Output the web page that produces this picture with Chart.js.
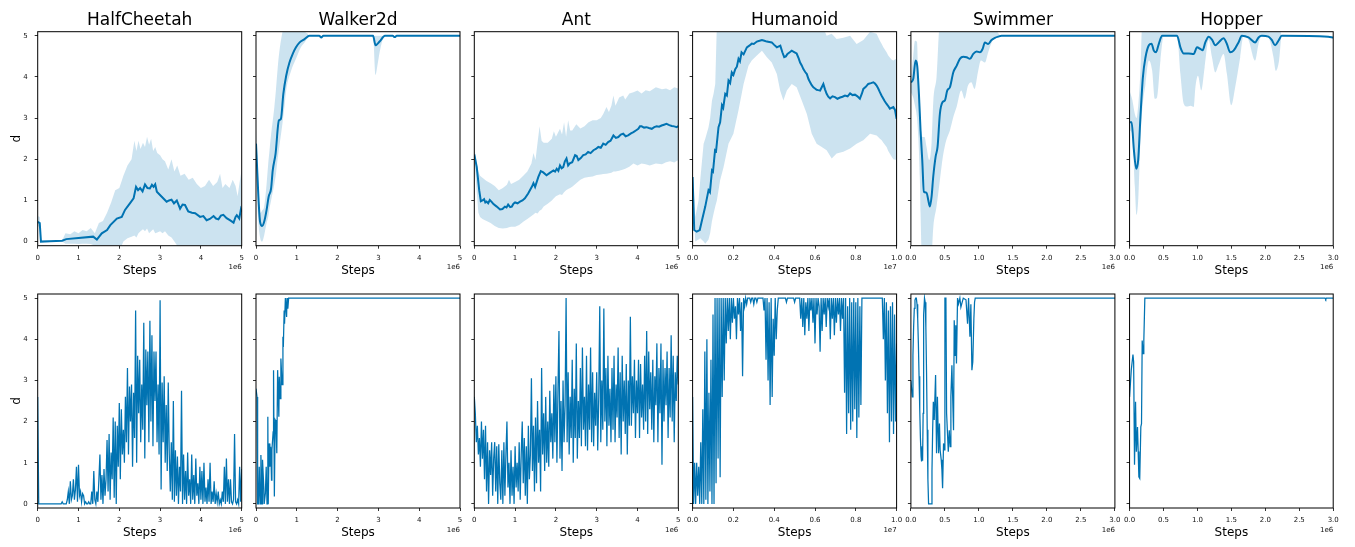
<!DOCTYPE html>
<html>
<head>
<meta charset="utf-8">
<title>d over training steps</title>
<script src="https://cdn.jsdelivr.net/npm/chart.js@4.4.6/dist/chart.umd.min.js"></script>
<style>
  html, body { margin: 0; padding: 0; background: #fff; }
  body { width: 1355px; height: 547px; overflow: hidden; position: relative; font-family: "DejaVu Sans", sans-serif; }
  canvas { position: absolute; }
  .offset { position: absolute; width: 40px; font-size: 7px; line-height: 7px; color: #111; text-align: right; white-space: nowrap; }
</style>
</head>
<body>
<script>
// ============ data ============
const ENVS = ["HalfCheetah", "Walker2d", "Ant", "Humanoid", "Swimmer", "Hopper"];
const X_MAX = [5, 5, 5, 1.0, 3.0, 3.0];
const X_OFFSET = ["1e6", "1e6", "1e6", "1e7", "1e6", "1e6"];
const Y_TICKS = [0, 1, 2, 3, 4, 5];
const Y_LABELS = ["0", "1", "2", "3", "4", "5"];
const X_TICKS_5 = [0, 1, 2, 3, 4, 5];
const X_LABELS_5 = ["0", "1", "2", "3", "4", "5"];
const X_TICKS_1 = [0, 0.2, 0.4, 0.6, 0.8, 1.0];
const X_LABELS_1 = ["0.0", "0.2", "0.4", "0.6", "0.8", "1.0"];
const X_TICKS_3 = [0, 0.5, 1.0, 1.5, 2.0, 2.5, 3.0];
const X_LABELS_3 = ["0.0", "0.5", "1.0", "1.5", "2.0", "2.5", "3.0"];

// top row: mean curve + spread band
const hcMeanX = [0, 0.05, 0.08, 0.3, 0.6, 0.7, 1.0, 1.36, 1.45, 1.57, 1.7, 1.78, 1.94, 2.06, 2.14, 2.26, 2.35, 2.41, 2.46, 2.51, 2.57, 2.63, 2.69, 2.75, 2.8, 2.84, 2.88, 2.92, 3.04, 3.16, 3.22, 3.28, 3.34, 3.41, 3.49, 3.55, 3.61, 3.69, 3.78, 3.86, 3.98, 4.06, 4.14, 4.22, 4.31, 4.37, 4.43, 4.49, 4.55, 4.63, 4.71, 4.8, 4.85, 4.88, 4.94, 4.98, 5.0];
const hcMean = [0.48, 0.45, 0.0, 0.01, 0.02, 0.06, 0.09, 0.12, 0.05, 0.2, 0.28, 0.4, 0.56, 0.6, 0.77, 0.93, 1.05, 1.33, 1.25, 1.3, 1.22, 1.39, 1.3, 1.29, 1.38, 1.33, 1.39, 1.21, 1.09, 0.97, 1.0, 1.02, 0.93, 1.0, 0.8, 0.9, 0.89, 0.73, 0.7, 0.69, 0.6, 0.62, 0.52, 0.55, 0.62, 0.56, 0.54, 0.63, 0.65, 0.57, 0.52, 0.46, 0.6, 0.64, 0.56, 0.78, 0.72];
const hcBandX = [0, 0.05, 0.08, 0.6, 0.68, 0.8, 0.9, 1.0, 1.1, 1.2, 1.3, 1.4, 1.5, 1.6, 1.7, 1.8, 1.9, 2.0, 2.05, 2.1, 2.2, 2.3, 2.37, 2.42, 2.47, 2.52, 2.58, 2.63, 2.68, 2.73, 2.78, 2.83, 2.88, 2.93, 3.0, 3.06, 3.12, 3.2, 3.28, 3.35, 3.42, 3.5, 3.6, 3.7, 3.8, 3.9, 4.0, 4.1, 4.2, 4.3, 4.4, 4.47, 4.53, 4.6, 4.7, 4.78, 4.85, 4.9, 4.95, 5.0];
const hcLo = [0.38, 0.35, 0, 0, -0.05, -0.05, -0.05, -0.06, -0.05, -0.05, -0.06, -0.1, -0.2, -0.3, -0.3, -0.3, -0.3, -0.3, -0.12, 0.0, 0.08, 0.12, 0.15, 0.1, 0.2, 0.25, 0.3, 0.25, 0.32, 0.2, 0.25, 0.3, 0.2, 0.22, 0.25, 0.2, 0.25, 0.15, 0.1, 0.0, -0.1, -0.3, -0.3, -0.3, -0.3, -0.3, -0.3, -0.3, -0.3, -0.3, -0.3, -0.3, -0.3, -0.3, -0.3, -0.3, -0.3, -0.3, -0.3, -0.3];
const hcHi = [0.62, 0.6, 0.02, 0.03, 0.2, 0.18, 0.25, 0.2, 0.28, 0.25, 0.33, 0.2, 0.45, 0.5, 0.7, 0.95, 1.25, 1.3, 1.45, 1.6, 1.85, 2.0, 2.45, 2.2, 2.45, 2.25, 2.4, 2.3, 2.55, 2.35, 2.5, 2.2, 2.3, 2.15, 2.1, 2.0, 1.95, 1.75, 2.0, 1.7, 1.85, 1.6, 1.65, 1.5, 1.55, 1.4, 1.3, 1.35, 1.5, 1.35, 1.45, 1.65, 1.3, 1.4, 1.3, 1.5, 1.35, 1.1, 1.45, 1.75];

const wkMeanX = [0, 0.1, 0.15, 0.2, 0.26, 0.31, 0.37, 0.41, 0.48, 0.56, 0.61, 0.67, 0.74, 0.82, 0.9, 0.98, 1.07, 1.19, 1.31, 1.55, 1.6, 1.65, 2.87, 2.93, 3.03, 3.16, 3.35, 3.4, 3.45, 5.0];
const wkMean = [2.38, 0.48, 0.38, 0.48, 0.77, 1.09, 1.29, 1.73, 2.14, 2.94, 2.98, 3.59, 4.03, 4.35, 4.56, 4.72, 4.84, 4.92, 5.0, 5.0, 4.96, 5.0, 5.0, 4.77, 4.86, 5.0, 5.0, 4.97, 5.0, 5.0];
const wkBandX = [0, 0.05, 0.1, 0.15, 0.2, 0.26, 0.3, 0.33, 0.37, 0.45, 0.49, 0.53, 0.57, 0.64, 0.7, 0.74, 0.86, 0.98, 1.1, 1.2, 1.27, 1.31, 2.87, 2.93, 2.98, 3.03, 3.16, 5.0];
const wkLo = [2.0, 0.6, 0.1, 0.0, 0.15, 0.45, 0.6, 0.8, 1.0, 1.4, 1.65, 2.0, 2.3, 2.8, 3.3, 3.67, 4.15, 4.44, 4.72, 4.85, 4.95, 5.0, 5.0, 4.05, 4.3, 4.6, 5.0, 5.0];
const wkHi = [2.7, 1.6, 0.7, 0.75, 0.85, 1.4, 1.9, 2.2, 2.6, 3.27, 3.7, 4.2, 4.6, 5.05, 5.3, 5.3, 5.3, 5.3, 5.3, 5.1, 5.05, 5.0, 5.0, 5.0, 5.0, 5.0, 5.0, 5.0];

const antMeanX = [0, 0.06, 0.12, 0.16, 0.2, 0.24, 0.27, 0.3, 0.34, 0.38, 0.43, 0.47, 0.55, 0.63, 0.69, 0.75, 0.79, 0.83, 0.88, 0.92, 0.96, 1.0, 1.06, 1.12, 1.18, 1.24, 1.32, 1.41, 1.45, 1.49, 1.57, 1.63, 1.69, 1.77, 1.85, 1.94, 1.98, 2.02, 2.06, 2.1, 2.14, 2.18, 2.22, 2.26, 2.3, 2.34, 2.4, 2.47, 2.51, 2.55, 2.61, 2.67, 2.73, 2.79, 2.85, 2.92, 2.98, 3.04, 3.1, 3.16, 3.22, 3.28, 3.34, 3.41, 3.47, 3.53, 3.59, 3.65, 3.71, 3.77, 3.84, 3.9, 3.96, 4.02, 4.06, 4.1, 4.16, 4.22, 4.28, 4.35, 4.41, 4.47, 4.53, 4.59, 4.65, 4.71, 4.78, 4.84, 4.9, 4.96, 5.0];
const antMean = [2.12, 1.81, 1.25, 0.98, 1.0, 1.03, 0.95, 0.97, 0.93, 1.01, 0.96, 0.91, 0.85, 0.78, 0.79, 0.85, 0.83, 0.9, 0.84, 0.85, 0.92, 0.95, 0.93, 0.97, 1.0, 1.05, 1.17, 1.33, 1.42, 1.33, 1.57, 1.71, 1.68, 1.61, 1.67, 1.73, 1.7, 1.77, 1.72, 1.85, 1.78, 1.81, 1.95, 2.02, 1.85, 1.9, 1.93, 2.1, 2.08, 1.98, 2.03, 2.1, 2.12, 2.18, 2.15, 2.22, 2.25, 2.3, 2.28, 2.38, 2.35, 2.42, 2.45, 2.58, 2.52, 2.54, 2.6, 2.62, 2.56, 2.58, 2.63, 2.66, 2.7, 2.74, 2.8, 2.8, 2.77, 2.78, 2.76, 2.74, 2.78, 2.8, 2.79, 2.82, 2.84, 2.86, 2.83, 2.81, 2.8, 2.78, 2.81];
const antBandX = [0, 0.06, 0.1, 0.14, 0.2, 0.3, 0.4, 0.5, 0.6, 0.7, 0.8, 0.85, 0.9, 1.0, 1.1, 1.2, 1.3, 1.4, 1.45, 1.5, 1.55, 1.6, 1.65, 1.7, 1.8, 1.9, 1.95, 2.0, 2.1, 2.15, 2.2, 2.25, 2.3, 2.35, 2.4, 2.5, 2.6, 2.7, 2.8, 2.9, 3.0, 3.1, 3.16, 3.24, 3.3, 3.36, 3.41, 3.46, 3.55, 3.65, 3.7, 3.8, 3.9, 4.0, 4.1, 4.2, 4.3, 4.45, 4.6, 4.7, 4.8, 4.9, 5.0];
const antLo = [2.0, 1.2, 0.7, 0.6, 0.55, 0.5, 0.45, 0.38, 0.33, 0.32, 0.33, 0.35, 0.36, 0.36, 0.4, 0.48, 0.55, 0.62, 0.66, 0.7, 0.68, 0.75, 0.78, 0.85, 0.92, 1.0, 1.05, 1.1, 1.15, 1.13, 1.2, 1.25, 1.28, 1.3, 1.33, 1.42, 1.5, 1.55, 1.57, 1.58, 1.62, 1.63, 1.64, 1.65, 1.66, 1.67, 1.7, 1.7, 1.72, 1.75, 1.77, 1.82, 1.9, 1.85, 1.9, 1.88, 1.85, 1.9, 1.88, 1.93, 1.95, 1.92, 1.98];
const antHi = [2.3, 1.9, 1.7, 1.6, 1.55, 1.47, 1.42, 1.35, 1.25, 1.3, 1.38, 1.5, 1.4, 1.45, 1.5, 1.6, 1.7, 1.9, 2.15, 1.98, 2.4, 2.8, 2.45, 2.4, 2.4, 2.5, 2.68, 2.55, 2.74, 2.6, 2.9, 2.55, 2.95, 2.7, 2.7, 2.85, 2.75, 2.8, 2.9, 2.95, 2.95, 3.0, 3.1, 3.27, 3.15, 3.3, 3.55, 3.3, 3.5, 3.55, 3.45, 3.6, 3.63, 3.67, 3.6, 3.68, 3.65, 3.75, 3.7, 3.72, 3.68, 3.75, 3.72];

const humMeanX = [0, 0.008, 0.02, 0.035, 0.046, 0.062, 0.078, 0.085, 0.095, 0.1, 0.11, 0.115, 0.127, 0.135, 0.144, 0.15, 0.16, 0.168, 0.176, 0.184, 0.192, 0.2, 0.209, 0.217, 0.225, 0.232, 0.24, 0.25, 0.266, 0.278, 0.29, 0.3, 0.315, 0.328, 0.34, 0.352, 0.364, 0.376, 0.388, 0.4, 0.413, 0.43, 0.44, 0.449, 0.457, 0.465, 0.476, 0.486, 0.5, 0.51, 0.52, 0.527, 0.535, 0.543, 0.552, 0.56, 0.568, 0.576, 0.584, 0.592, 0.6, 0.608, 0.616, 0.625, 0.633, 0.641, 0.649, 0.657, 0.665, 0.674, 0.686, 0.698, 0.71, 0.723, 0.735, 0.747, 0.76, 0.772, 0.784, 0.796, 0.808, 0.82, 0.83, 0.837, 0.849, 0.861, 0.874, 0.886, 0.894, 0.902, 0.91, 0.918, 0.926, 0.935, 0.942, 0.95, 0.958, 0.967, 0.975, 0.984, 0.992, 1.0];
const humMean = [1.57, 0.28, 0.24, 0.28, 0.52, 0.85, 1.25, 1.2, 1.73, 1.7, 2.22, 2.2, 2.78, 2.9, 3.31, 3.25, 3.59, 3.55, 3.91, 3.85, 4.11, 4.05, 4.19, 4.25, 4.44, 4.38, 4.6, 4.55, 4.72, 4.76, 4.81, 4.8, 4.86, 4.88, 4.9, 4.88, 4.86, 4.85, 4.84, 4.78, 4.72, 4.76, 4.6, 4.48, 4.5, 4.56, 4.6, 4.64, 4.6, 4.57, 4.45, 4.35, 4.28, 4.19, 4.12, 4.07, 3.95, 3.87, 3.8, 3.75, 3.72, 3.69, 3.68, 3.67, 3.75, 3.83, 3.7, 3.59, 3.52, 3.48, 3.53, 3.51, 3.47, 3.5, 3.52, 3.55, 3.53, 3.6, 3.56, 3.57, 3.53, 3.47, 3.6, 3.71, 3.76, 3.83, 3.85, 3.87, 3.84, 3.79, 3.72, 3.63, 3.55, 3.47, 3.41, 3.35, 3.3, 3.23, 3.25, 3.27, 3.2, 2.98];
const humBandX = [0, 0.013, 0.029, 0.0375, 0.054, 0.062, 0.078, 0.086, 0.095, 0.103, 0.111, 0.119, 0.135, 0.152, 0.176, 0.2, 0.225, 0.25, 0.274, 0.29, 0.315, 0.34, 0.364, 0.388, 0.413, 0.429, 0.445, 0.462, 0.486, 0.51, 0.535, 0.56, 0.584, 0.608, 0.633, 0.657, 0.682, 0.706, 0.739, 0.772, 0.804, 0.837, 0.87, 0.902, 0.918, 0.927, 0.935, 0.951, 0.959, 0.976, 0.984, 1.0];
const humLo = [1.4, 0.0, 0.05, 0.08, 0.0, -0.05, 0.05, 0.2, 0.5, 0.68, 0.85, 1.0, 1.49, 1.81, 2.38, 2.62, 3.19, 3.83, 4.27, 4.4, 4.52, 4.64, 4.48, 4.35, 4.07, 3.67, 3.43, 3.67, 3.83, 3.75, 3.43, 3.1, 2.62, 2.38, 2.3, 2.22, 2.02, 2.14, 2.18, 2.26, 2.38, 2.46, 2.62, 2.58, 2.5, 2.46, 2.4, 2.3, 2.2, 2.06, 2.0, 1.98];
const humHi = [1.73, 0.6, 1.0, 1.5, 2.38, 2.5, 2.78, 3.0, 3.43, 3.6, 3.83, 5.3, 5.3, 5.3, 5.3, 5.3, 5.3, 5.3, 5.3, 5.3, 5.3, 5.3, 5.3, 5.3, 5.3, 5.3, 5.3, 5.3, 5.3, 5.3, 5.3, 5.3, 5.3, 5.3, 5.3, 5.0, 5.05, 4.92, 4.95, 5.0, 4.8, 4.9, 5.1, 5.05, 4.88, 4.8, 4.72, 4.6, 4.52, 4.42, 4.4, 4.45];

const swMeanX = [0, 0.034, 0.069, 0.093, 0.118, 0.142, 0.167, 0.191, 0.23, 0.255, 0.279, 0.304, 0.328, 0.363, 0.392, 0.426, 0.466, 0.5, 0.534, 0.574, 0.623, 0.672, 0.72, 0.77, 0.819, 0.868, 0.917, 0.966, 1.015, 1.054, 1.088, 1.137, 1.186, 1.235, 1.284, 1.333, 3.0];
const swMean = [3.87, 3.95, 4.4, 4.27, 3.59, 2.7, 1.98, 1.21, 1.19, 1.01, 0.85, 1.09, 1.57, 2.06, 2.3, 3.1, 3.39, 3.43, 3.67, 3.75, 4.11, 4.27, 4.44, 4.49, 4.48, 4.44, 4.56, 4.62, 4.6, 4.68, 4.84, 4.8, 4.9, 4.95, 4.98, 5.0, 5.0];
const swBandX = [0, 0.034, 0.06, 0.09, 0.11, 0.132, 0.142, 0.16, 0.2, 0.23, 0.27, 0.304, 0.33, 0.377, 0.426, 0.47, 0.52, 0.574, 0.623, 0.672, 0.74, 0.79, 0.84, 0.887, 0.936, 0.985, 1.03, 1.088, 1.137, 1.2, 1.27, 1.333, 3.0];
const swLo = [3.63, 3.5, 3.3, 3.0, 2.5, 1.5, 0.68, -0.3, -0.3, -0.3, -0.3, -0.3, 0.36, 0.85, 1.49, 2.06, 2.46, 2.7, 3.02, 3.27, 3.67, 3.47, 3.79, 3.87, 3.71, 4.11, 4.4, 4.35, 4.6, 4.88, 4.95, 5.0, 5.0];
const swHi = [4.0, 4.5, 4.88, 4.85, 3.8, 3.4, 2.95, 2.55, 2.54, 2.3, 1.98, 2.4, 3.43, 4.0, 5.3, 5.3, 5.3, 5.3, 5.3, 5.3, 5.3, 5.3, 5.3, 5.3, 5.3, 5.3, 5.3, 5.3, 5.3, 5.3, 5.1, 5.0, 5.0];

const hpMeanX = [0, 0.03, 0.064, 0.098, 0.127, 0.16, 0.196, 0.235, 0.284, 0.323, 0.357, 0.39, 0.43, 0.48, 0.7, 0.749, 0.798, 0.871, 0.945, 0.994, 1.043, 1.077, 1.116, 1.165, 1.214, 1.263, 1.312, 1.385, 1.434, 1.483, 1.532, 1.605, 1.654, 1.752, 1.85, 1.9, 1.948, 2.046, 2.095, 2.144, 2.193, 2.242, 2.927, 3.0];
const hpMean = [2.9, 2.9, 2.22, 1.77, 1.98, 3.02, 3.99, 4.48, 4.77, 4.81, 4.64, 4.6, 4.8, 5.0, 5.0, 4.72, 4.57, 4.57, 4.56, 4.72, 4.68, 4.65, 4.84, 4.98, 4.91, 4.77, 4.84, 4.94, 4.8, 4.6, 4.64, 4.84, 5.0, 4.96, 4.84, 4.96, 5.0, 4.98, 4.9, 4.77, 4.88, 5.0, 4.98, 4.96];
const hpBandX = [0, 0.039, 0.078, 0.103, 0.127, 0.16, 0.186, 0.235, 0.284, 0.333, 0.372, 0.406, 0.455, 0.504, 0.7, 0.749, 0.798, 0.847, 0.896, 0.945, 0.97, 1.008, 1.057, 1.106, 1.165, 1.214, 1.263, 1.312, 1.385, 1.434, 1.498, 1.556, 1.63, 1.679, 1.752, 1.85, 1.9, 1.948, 2.046, 2.12, 2.154, 2.203, 2.242, 3.0];
const hpLo = [2.7, 2.62, 1.33, 0.65, 1.0, 2.46, 3.19, 3.83, 4.4, 4.15, 3.47, 3.51, 4.4, 5.0, 5.0, 4.07, 3.35, 3.28, 3.3, 3.27, 3.75, 4.03, 3.67, 4.23, 4.9, 4.48, 4.11, 4.3, 4.56, 4.07, 3.31, 3.75, 4.48, 5.0, 4.9, 4.4, 4.8, 5.0, 4.96, 4.48, 4.15, 4.4, 5.0, 5.0];
const hpHi = [3.67, 3.45, 3.1, 3.0, 3.3, 4.15, 5.3, 5.3, 5.3, 5.3, 5.3, 5.3, 5.3, 5.3, 5.3, 5.3, 5.3, 5.3, 5.3, 5.3, 5.3, 5.3, 5.3, 5.3, 5.3, 5.3, 5.3, 5.3, 5.3, 5.3, 5.3, 5.3, 5.3, 5.3, 5.3, 5.3, 5.3, 5.3, 5.3, 5.3, 5.3, 5.3, 5.0, 5.0];

// bottom row: single runs (evenly logged ones keep their logging interval)
const hcRunDt = 0.025;
const hcRun = [2.6, 0, 0, 0, 0, 0, 0, 0, 0, 0,
  0, 0, 0, 0, 0, 0, 0, 0, 0, 0,
  0, 0, 0, 0, 0.05, 0, 0, 0, 0, 0.1,
  0.3, 0, 0.55, 0.1, 0.2, 0.6, 0.1, 0.35, 0.9, 0.05,
  0.95, 0.2, 0.3, 0.05, 0.25, 0.2, 0, 0.05, 0, 0,
  0.05, 0, 0, 0.3, 0, 0.8, 0.1, 0, 0.3, 0.05,
  0.6, 1.2, 0.1, 0.7, 0, 0.85, 0.2, 0.6, 1.55, 0.3,
  1.7, 0.1, 1.25, 0.6, 2.1, 0.15, 2.0, 0, 1.9, 0.9,
  2.45, 0.6, 2.3, 1.2, 1.8, 1.0, 2.6, 1.5, 3.3, 1.2,
  2.85, 2.0, 2.9, 0.9, 2.7, 1.6, 4.7, 1.0, 3.6, 2.2,
  3.5, 1.5, 2.9, 1.8, 4.4, 1.1, 3.75, 2.4, 3.7, 1.5,
  4.45, 2.0, 4.1, 1.4, 3.7, 2.5, 3.7, 1.5, 2.9, 1.2,
  4.95, 0.35, 2.95, 1.5, 3.1, 1.0, 2.4, 0.8, 2.95, 1.2,
  0.3, 1.5, 0.1, 2.5, 0.05, 1.3, 0.2, 1.15, 0, 0.9,
  0.3, 2.75, 0, 1.2, 0.1, 0.8, 0, 1.25, 0.2, 0.6,
  0, 1.2, 0.1, 0.7, 0, 1.1, 0.2, 0.5, 0, 0.9,
  0.1, 0.8, 0, 1.0, 0.05, 0.4, 0, 0.6, 0.05, 1.0,
  0, 0.3, 0.05, 0.55, 0, 0.25, 0.05, 0.3, 0, 0.1,
  0, 0.3, 0.05, 0.9, 0, 1.1, 0.05, 0.6, 0, 0.6,
  0.05, 0, 0.1, 1.7, 0.05, 0, 0.1, 0, 0.9, 0.05,
  0.85];

const wkRunX = [0, 0.025, 0.04, 0.06, 0.08, 0.1, 0.12, 0.15, 0.16, 0.19, 0.2, 0.23, 0.25, 0.27, 0.29, 0.3, 0.32, 0.34, 0.36, 0.38, 0.39, 0.42, 0.43, 0.45, 0.47, 0.49, 0.51, 0.53, 0.56, 0.57, 0.59, 0.61, 0.64, 0.66, 0.67, 0.69, 0.7, 0.72, 0.75, 0.76, 0.78, 0.8, 5.0];
const wkRun = [2.8, 2.6, 0.0, 0.0, 0.9, 0.0, 1.19, 0.0, 1.07, 0.42, 0.0, 0.26, 0.9, 0.0, 2.12, 0.0, 1.47, 0.9, 1.39, 0.58, 1.31, 1.75, 3.25, 0.18, 2.04, 2.0, 1.23, 3.25, 2.12, 3.09, 2.56, 3.53, 2.9, 4.06, 3.81, 4.7, 4.38, 5.0, 4.54, 5.0, 4.74, 5.0, 5.0];

const antRunDt = 0.025;
const antRun = [2.6, 2.2, 1.5, 1.9, 1.2, 1.6, 0.9, 2.0, 1.1, 1.8,
  0.6, 1.9, 0.3, 1.5, 0.0, 1.3, 0.7, 1.5, 0.2, 1.1,
  1.5, 0.3, 1.4, 0.0, 1.45, 0.5, 0.1, 1.3, 0.0, 1.5,
  0.2, 1.2, 2.0, 0.4, 1.0, 0.0, 1.3, 0.2, 0.9, 0.0,
  1.4, 0.4, 1.0, 0.3, 1.5, 0.1, 1.2, 2.0, 0.5, 1.6,
  0.2, 1.4, 0.0, 1.9, 0.6, 1.2, 3.05, 0.8, 1.9, 0.3,
  2.1, 0.5, 2.5, 1.0, 1.8, 0.3, 3.3, 1.2, 2.2, 0.8,
  2.6, 1.0, 2.0, 0.9, 2.75, 1.5, 2.2, 1.1, 2.9, 1.5,
  3.1, 1.0, 2.7, 4.2, 1.1, 2.5, 0.8, 3.0, 1.5, 2.4,
  5.0, 1.5, 3.2, 1.2, 2.6, 1.6, 3.5, 1.0, 2.8, 1.6,
  3.9, 1.1, 2.5, 1.6, 3.3, 1.4, 3.8, 1.8, 2.6, 1.4,
  3.6, 1.3, 2.9, 1.8, 3.8, 1.5, 3.2, 1.4, 2.7, 1.9,
  3.2, 1.3, 2.6, 4.8, 1.5, 3.0, 1.8, 4.75, 2.0, 3.3,
  1.4, 3.6, 1.9, 2.8, 1.5, 3.3, 1.8, 3.6, 1.5, 2.9,
  2.1, 3.8, 1.6, 3.2, 1.2, 3.6, 2.0, 3.0, 1.7, 3.4,
  1.2, 3.0, 1.9, 4.55, 1.9, 3.1, 2.2, 3.5, 1.6, 3.0,
  2.2, 3.5, 1.6, 3.4, 2.1, 2.9, 1.8, 3.6, 2.0, 4.2,
  1.7, 3.7, 2.3, 3.2, 1.8, 3.5, 1.5, 3.1, 2.4, 3.9,
  1.5, 3.3, 2.2, 3.9, 0.95, 3.5, 2.0, 3.3, 2.4, 3.7,
  1.6, 3.3, 2.1, 4.1, 2.0, 3.6, 1.5, 3.2, 2.5, 3.6,
  2.9];

const humRunDt = 0.005;
const humRun = [2.6, 0.0, 1.0, 0.0, 1.0, 0.2, 0.9, 0.0, 1.5, 0.0,
  2.3, 0.0, 3.7, 0.1, 4.0, 0.0, 2.7, 0.3, 3.5, 0.0,
  4.6, 0.0, 5.0, 0.5, 5.0, 1.1, 5.0, 0.65, 5.0, 2.6,
  5.0, 3.0, 5.0, 3.9, 5.0, 4.2, 5.0, 4.0, 5.0, 4.4,
  5.0, 4.5, 4.8, 4.0, 5.0, 4.6, 5.0, 4.2, 4.9, 3.1,
  5.0, 4.8, 5.0, 4.85, 5.0, 5.0, 5.0, 4.9, 5.0, 5.0,
  4.85, 5.0, 5.0, 4.9, 5.0, 5.0, 5.0, 5.0, 5.0, 5.0,
  4.7, 5.0, 3.5, 5.0, 3.0, 4.9, 2.4, 5.0, 2.6, 4.5,
  3.6, 5.0, 4.0, 4.7, 5.0, 5.0, 5.0, 5.0, 5.0, 5.0,
  5.0, 5.0, 4.9, 5.0, 5.0, 5.0, 5.0, 5.0, 5.0, 5.0,
  4.9, 5.0, 5.0, 5.0, 5.0, 5.0, 4.5, 5.0, 4.3, 5.0,
  4.1, 4.9, 4.5, 5.0, 4.2, 5.0, 4.7, 5.0, 4.4, 5.0,
  3.9, 5.0, 4.6, 5.0, 4.8, 3.7, 5.0, 4.2, 5.0, 4.6,
  5.0, 4.3, 5.0, 4.8, 5.0, 4.0, 5.0, 4.5, 5.0, 4.1,
  5.0, 4.4, 5.0, 4.6, 5.0, 4.2, 5.0, 4.5, 5.0, 2.7,
  5.0, 1.7, 4.8, 2.2, 5.0, 1.8, 4.9, 2.0, 5.0, 2.3,
  4.9, 1.6, 5.0, 2.1, 4.8, 2.4, 5.0, 5.0, 5.0, 5.0,
  5.0, 5.0, 5.0, 5.0, 5.0, 5.0, 5.0, 5.0, 5.0, 5.0,
  5.0, 5.0, 5.0, 5.0, 5.0, 5.0, 5.0, 4.0, 5.0, 3.0,
  4.9, 2.2, 4.7, 1.5, 4.8, 2.0, 4.9, 1.7, 4.6, 2.0,
  3.9];

const swRunX = [0, 0.02, 0.03, 0.04, 0.05, 0.06, 0.07, 0.08, 0.09, 0.1, 0.11, 0.12, 0.13, 0.14, 0.15, 0.157, 0.165, 0.172, 0.18, 0.185, 0.19, 0.2, 0.21, 0.22, 0.23, 0.24, 0.25, 0.26, 0.3, 0.31, 0.32, 0.33, 0.343, 0.363, 0.377, 0.39, 0.407, 0.42, 0.43, 0.446, 0.456, 0.466, 0.48, 0.49, 0.5, 0.515, 0.525, 0.55, 0.564, 0.578, 0.588, 0.603, 0.613, 0.627, 0.637, 0.652, 0.66, 0.67, 0.686, 0.7, 0.72, 0.735, 0.77, 0.81, 0.833, 0.848, 0.868, 0.882, 0.897, 0.91, 0.926, 0.936, 0.946, 3.0];
const swRun = [3.0, 2.6, 3.6, 4.3, 4.75, 4.95, 5.0, 5.0, 4.85, 4.5, 3.9, 3.1, 2.3, 1.6, 1.15, 1.03, 1.4, 1.05, 2.2, 3.6, 4.6, 5.0, 4.9, 4.3, 3.2, 1.8, 0.6, 0.0, 0.0, 0.8, 1.8, 2.48, 2.04, 3.13, 1.23, 2.6, 1.23, 1.95, 1.31, 1.07, 0.83, 0.38, 1.47, 1.31, 5.0, 5.0, 2.2, 1.27, 1.79, 1.39, 2.6, 3.37, 2.68, 1.79, 4.46, 3.61, 4.34, 3.41, 5.0, 4.86, 5.0, 4.78, 5.0, 4.96, 4.38, 5.0, 4.06, 4.85, 3.25, 3.45, 4.5, 4.9, 5.0, 5.0];

const hpRunX = [0, 0.025, 0.05, 0.06, 0.073, 0.088, 0.1, 0.117, 0.127, 0.137, 0.15, 0.166, 0.176, 0.186, 0.2, 0.21, 0.225, 2.88, 2.89, 2.9, 3.0];
const hpRun = [2.6, 3.25, 3.63, 3.45, 0.95, 2.48, 1.27, 1.87, 1.27, 0.66, 0.62, 1.87, 1.95, 3.97, 3.65, 3.97, 5.0, 5.0, 4.97, 5.0, 5.0];

// ============ layout ============
const FONT = "'DejaVu Sans', sans-serif";
const LINE = "#0173b2";
const BAND = "rgba(1,115,178,0.2)";
const PLOT_LEFTS = [37.7, 256.0, 474.3, 692.6, 910.9, 1129.2];
const PLOT_TOPS = [31.7, 294.0];
const PLOT_W = 204;
const PLOT_H = 214;
const TITLE_H = 31.7;
const X_AXIS_H = 34.3;
const RIGHT_PAD = 12;

function evenX(dt, ys) {
  return ys.map((_, i) => +(i * dt).toFixed(4));
}

function pts(xs, ys) {
  return xs.map((x, i) => ({ x, y: ys[i] }));
}

const PANELS = [
  { mean: [hcMeanX, hcMean], band: [hcBandX, hcLo, hcHi], run: [evenX(hcRunDt, hcRun), hcRun], ticks: X_TICKS_5, labels: X_LABELS_5, smooth: false },
  { mean: [wkMeanX, wkMean], band: [wkBandX, wkLo, wkHi], run: [wkRunX, wkRun], ticks: X_TICKS_5, labels: X_LABELS_5, smooth: true },
  { mean: [antMeanX, antMean], band: [antBandX, antLo, antHi], run: [evenX(antRunDt, antRun), antRun], ticks: X_TICKS_5, labels: X_LABELS_5, smooth: false },
  { mean: [humMeanX, humMean], band: [humBandX, humLo, humHi], run: [evenX(humRunDt, humRun), humRun], ticks: X_TICKS_1, labels: X_LABELS_1, smooth: false },
  { mean: [swMeanX, swMean], band: [swBandX, swLo, swHi], run: [swRunX, swRun], ticks: X_TICKS_3, labels: X_LABELS_3, smooth: true },
  { mean: [hpMeanX, hpMean], band: [hpBandX, hpLo, hpHi], run: [hpRunX, hpRun], ticks: X_TICKS_3, labels: X_LABELS_3, smooth: true },
];

// matplotlib-like frame around each axes
const spines = {
  id: "spines",
  afterDatasetsDraw(chart) {
    const { ctx, chartArea: a } = chart;
    ctx.save();
    ctx.strokeStyle = "#000";
    ctx.lineWidth = 1;
    ctx.strokeRect(a.left, a.top, a.right - a.left, a.bottom - a.top);
    ctx.restore();
  },
};

function datasetsFor(p, row) {
  const cubic = p.smooth ? "monotone" : "default";
  if (row === 1) {
    return [{ data: pts(p.run[0], p.run[1]), borderColor: LINE, borderWidth: 1.25, pointRadius: 0, fill: false }];
  }
  const [bx, lo, hi] = p.band;
  return [
    { data: pts(p.mean[0], p.mean[1]), borderColor: LINE, borderWidth: 2, pointRadius: 0, fill: false, cubicInterpolationMode: cubic },
    { data: pts(bx, hi), borderColor: "transparent", borderWidth: 0, pointRadius: 0, backgroundColor: BAND, fill: "+1", cubicInterpolationMode: cubic },
    { data: pts(bx, lo), borderColor: "transparent", borderWidth: 0, pointRadius: 0, fill: false, cubicInterpolationMode: cubic },
  ];
}

function makePanel(col, row) {
  const p = PANELS[col];
  const plotLeft = PLOT_LEFTS[col];
  const plotTop = PLOT_TOPS[row];
  const yAxisW = col === 0 ? 37.7 : 10;

  const canvasLeft = Math.floor(plotLeft - yAxisW);
  const padLeft = plotLeft - yAxisW - canvasLeft;
  const canvasW = Math.ceil(padLeft + yAxisW + PLOT_W + RIGHT_PAD);
  const padRight = canvasW - (padLeft + yAxisW + PLOT_W);
  const canvasTop = Math.floor(plotTop - TITLE_H);
  const padTop = plotTop - canvasTop - (row === 0 ? TITLE_H : 0);
  const innerH = plotTop - canvasTop + PLOT_H + X_AXIS_H;
  const canvasH = Math.ceil(innerH);
  const padBottom = canvasH - innerH;

  const cv = document.createElement("canvas");
  cv.width = canvasW; cv.height = canvasH;
  cv.style.left = canvasLeft + "px"; cv.style.top = canvasTop + "px";
  cv.style.width = canvasW + "px"; cv.style.height = canvasH + "px";
  document.body.appendChild(cv);

  const tickFont = { family: FONT, size: 7 };
  const labelFont = { family: FONT, size: 12, lineHeight: 1.2 };
  const grid = { drawOnChartArea: false, drawTicks: true, tickLength: 3, tickColor: "#000", tickWidth: 0.8 };

  new Chart(cv, {
    type: "line",
    data: { datasets: datasetsFor(p, row) },
    options: {
      responsive: false,
      animation: false,
      events: [],
      layout: { padding: { left: padLeft, right: padRight, top: padTop, bottom: padBottom } },
      plugins: {
        legend: { display: false },
        tooltip: { enabled: false },
        title: {
          display: row === 0, text: ENVS[col], fullSize: false, color: "#000",
          font: { family: FONT, size: 17, weight: "normal", lineHeight: 1.2 },
          padding: { top: 10.4, bottom: 0.9 },
        },
      },
      scales: {
        x: {
          type: "linear", min: 0, max: X_MAX[col], bounds: "data",
          afterFit: s => { s.height = X_AXIS_H; },
          afterBuildTicks: s => { s.ticks = p.ticks.map(v => ({ value: v })); },
          ticks: { callback: (v, i) => p.labels[i], font: tickFont, color: "#111", padding: 5, maxRotation: 0, autoSkip: false },
          grid,
          border: { display: false },
          title: { display: true, text: "Steps", color: "#000", font: labelFont, padding: { top: 0, bottom: 2.3 } },
        },
        y: {
          min: -0.1, max: 5.1, bounds: "data",
          afterFit: s => { s.width = yAxisW; },
          afterBuildTicks: s => { s.ticks = Y_TICKS.map(v => ({ value: v })); },
          ticks: { display: col === 0, callback: (v, i) => Y_LABELS[i], font: tickFont, color: "#111", padding: 7 },
          grid,
          border: { display: false },
          title: { display: col === 0, text: "d", color: "#000", font: labelFont, padding: { top: 9.3, bottom: 0 } },
        },
      },
    },
    plugins: [spines],
  });

  // scientific offset text under the right end of the x axis
  const off = document.createElement("div");
  off.className = "offset";
  off.textContent = X_OFFSET[col];
  off.style.left = (plotLeft + PLOT_W - 40) + "px";
  off.style.top = (plotTop + PLOT_H + 18.5) + "px";
  document.body.appendChild(off);
}

for (let row = 0; row < 2; row++) {
  for (let col = 0; col < ENVS.length; col++) makePanel(col, row);
}
</script>
</body>
</html>
